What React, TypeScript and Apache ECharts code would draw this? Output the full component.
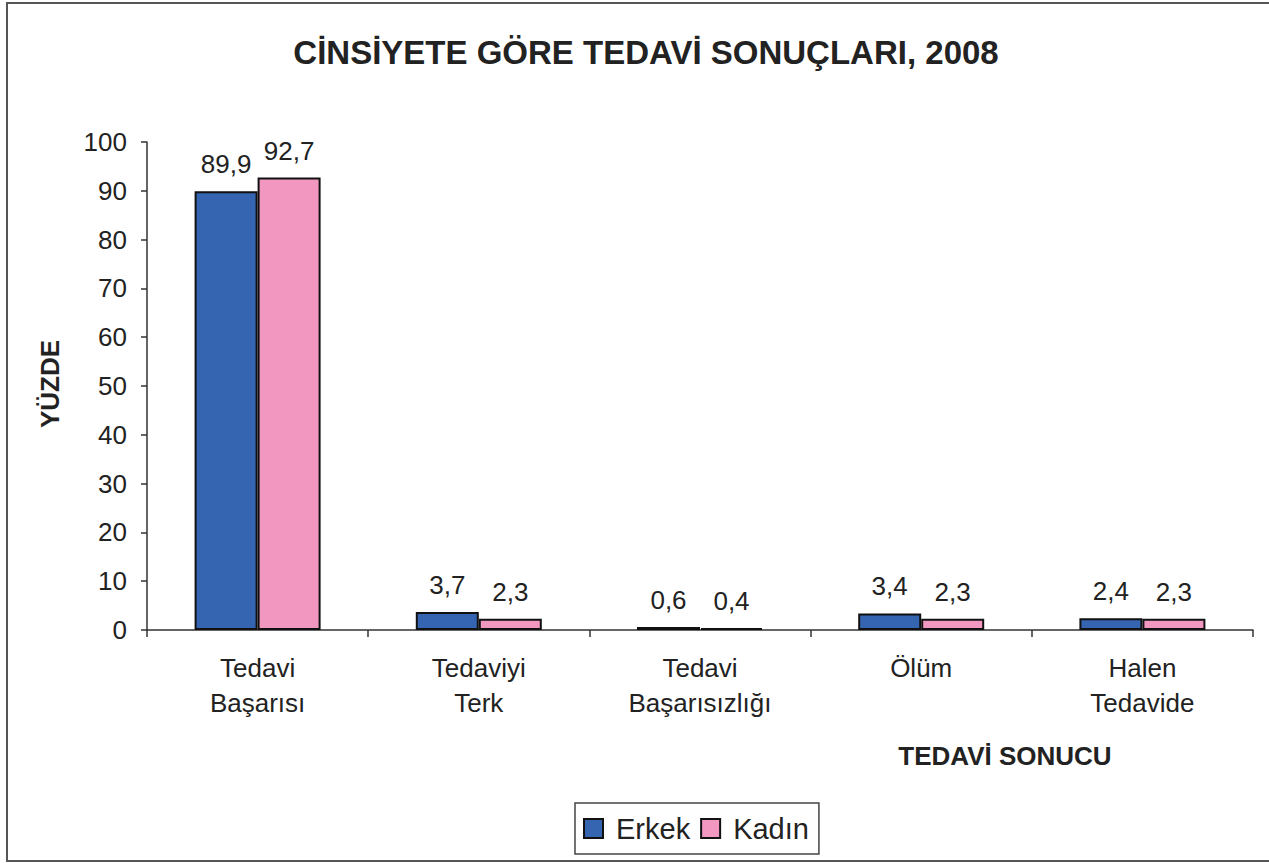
import React, { useEffect, useRef } from "react";
import * as echarts from "echarts";

const categories = ["Tedavi\nBaşarısı", "Tedaviyi\nTerk", "Tedavi\nBaşarısızlığı", "Ölüm", "Halen\nTedavide"];
const erkek = [89.9, 3.7, 0.6, 3.4, 2.4];
const kadin = [92.7, 2.3, 0.4, 2.3, 2.3];
const seriesNames = ["Erkek", "Kadın"];
const titleText = "CİNSİYETE GÖRE TEDAVİ SONUÇLARI, 2008";
const yName = "YÜZDE";
const xName = "TEDAVİ SONUCU";

const FONT = "'Liberation Sans', Arial, sans-serif";

export default function App() {
  const ref = useRef<HTMLDivElement>(null);
  useEffect(() => {
    if (!ref.current) return;
    const chart = echarts.init(ref.current, null, { renderer: "svg" });
    const label = {
      show: true,
      position: "top",
      distance: 14,
      fontSize: 26,
      fontFamily: FONT,
      color: "#222",
      formatter: (p: any) => String(p.value).replace(".", ","),
    };
    chart.setOption({
      animation: false,
      backgroundColor: "#fff",
      textStyle: { fontFamily: FONT },
      title: {
        text: titleText,
        left: 641,
        top: 31,
        textAlign: "center",
        textStyle: { fontSize: 33, fontWeight: "bold", color: "#222", fontFamily: FONT },
      },
      graphic: [
        {
          type: "rect",
          shape: { x: 7, y: 3, width: 1275, height: 858 },
          style: { fill: "none", stroke: "#555", lineWidth: 2 },
          silent: true,
        },
        {
          type: "text",
          x: 50,
          y: 384,
          rotation: Math.PI / 2,
          style: {
            text: yName,
            fontSize: 26,
            fontWeight: "bold",
            fontFamily: FONT,
            fill: "#222",
            align: "center",
            verticalAlign: "middle",
          },
        },
        {
          type: "text",
          x: 1005,
          y: 756,
          style: {
            text: xName,
            fontSize: 26,
            fontWeight: "bold",
            fontFamily: FONT,
            fill: "#222",
            align: "center",
            verticalAlign: "middle",
          },
        },
      ],
      legend: {
        data: seriesNames,
        left: 575,
        top: 803,
        itemWidth: 19,
        itemHeight: 19,
        itemGap: 10,
        icon: "rect",
        borderColor: "#444",
        borderWidth: 1.5,
        padding: [11, 10, 11, 8],
        textStyle: { fontSize: 29, color: "#222", fontFamily: FONT, padding: [0, 0, 0, 8] },
      },
      grid: { left: 147, right: 16, top: 142, bottom: 233, containLabel: false },
      xAxis: {
        type: "category",
        data: categories,
        axisLine: { lineStyle: { color: "#333", width: 1.5 } },
        axisTick: { show: true, length: 7, lineStyle: { color: "#333", width: 1.5 } },
        axisLabel: {
          fontSize: 26,
          color: "#222",
          fontFamily: FONT,
          margin: 20,
          lineHeight: 35,
          interval: 0,
        },
      },
      yAxis: {
        type: "value",
        min: 0,
        max: 100,
        interval: 10,
        splitLine: { show: false },
        axisLine: { show: true, lineStyle: { color: "#333", width: 1.5 } },
        axisTick: { show: true, length: 6, lineStyle: { color: "#333", width: 1.5 } },
        axisLabel: { fontSize: 26, color: "#222", fontFamily: FONT, margin: 20 },
      },
      series: [
        {
          name: seriesNames[0],
          type: "bar",
          data: erkek,
          barWidth: 63,
          barGap: "0%",
          itemStyle: { color: "#3565B0", borderColor: "#111", borderWidth: 2 },
          label,
        },
        {
          name: seriesNames[1],
          type: "bar",
          data: kadin,
          barWidth: 63,
          barGap: "0%",
          itemStyle: { color: "#F297C0", borderColor: "#111", borderWidth: 2 },
          label,
        },
      ],
    });
    return () => chart.dispose();
  }, []);
  return (
    <div
      ref={ref}
      style={{ position: "absolute", left: 0, top: 0, width: 1269, height: 863 }}
    />
  );
}
